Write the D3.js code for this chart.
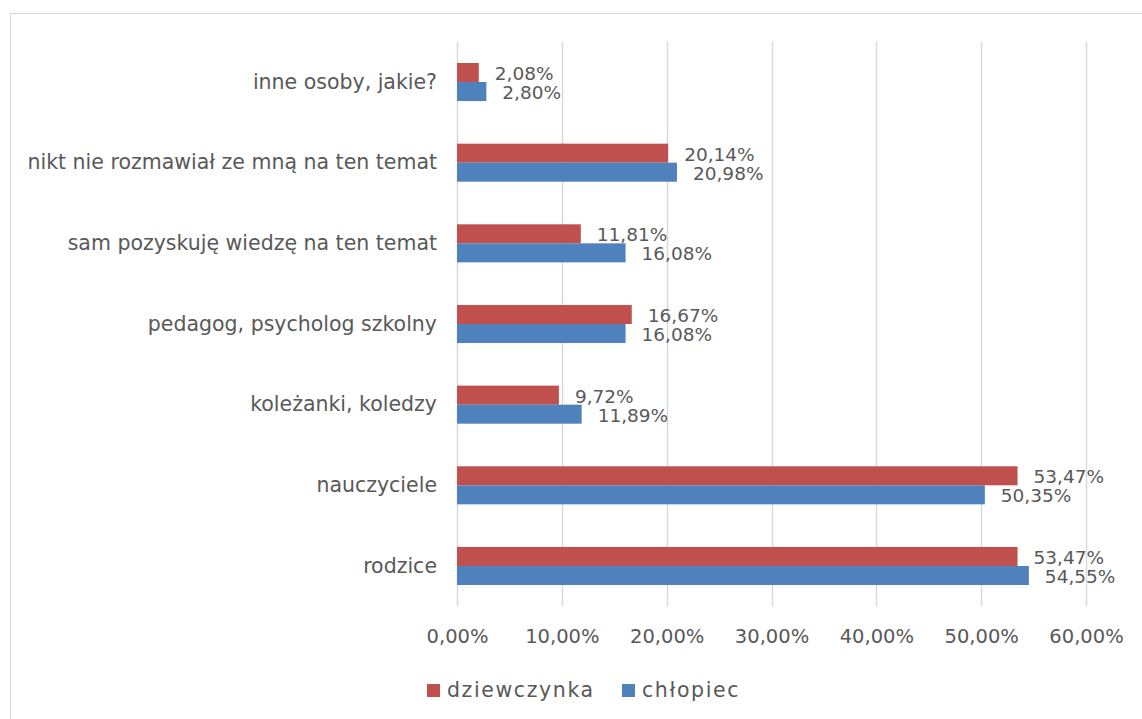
<!DOCTYPE html>
<html><head><meta charset="utf-8">
<script src="https://cdnjs.cloudflare.com/ajax/libs/d3/7.8.5/d3.min.js"></script>
<style>body{margin:0;background:#fff}svg{display:block}text{font-family:"DejaVu Sans",sans-serif;fill:#595959}</style>
</head><body><svg id="c" width="1142" height="719"></svg>
<script>
const categories = ["inne osoby, jakie?","nikt nie rozmawiał ze mną na ten temat","sam pozyskuję wiedzę na ten temat","pedagog, psycholog szkolny","koleżanki, koledzy","nauczyciele","rodzice"];
const dziewczynka = [2.08,20.14,11.81,16.67,9.72,53.47,53.47];
const chlopiec = [2.80,20.98,16.08,16.08,11.89,50.35,54.55];
const seriesNames = ["dziewczynka","chłopiec"];
const tickValues = [0,10,20,30,40,50,60];
const colors = ["#C0504D","#4F81BD"];

const svg = d3.select("#c");
const fmt = v => v.toFixed(2).replace(".",",")+"%";

// frame
svg.append("rect").attr("x",10.5).attr("y",13.5).attr("width",1200).attr("height",800)
  .attr("fill","none").attr("stroke","#D9D9D9").attr("stroke-width",1);

const x = d3.scaleLinear().domain([0,60]).range([457,1086]);
const y = d3.scaleBand().domain(categories).range([41.7,606.3]);
const inner = d3.scaleBand().domain([0,1]).range([0,y.bandwidth()]).paddingInner(0).paddingOuter(1.12);

// grid
svg.append("g").selectAll("line").data(tickValues).join("line")
  .attr("x1",d=>Math.round(x(d))+0.5).attr("x2",d=>Math.round(x(d))+0.5)
  .attr("y1",42).attr("y2",606).attr("stroke","#D9D9D9").attr("stroke-width",1.5);

// x axis labels
const xa = svg.append("g").attr("transform","translate(0,606)")
  .call(d3.axisBottom(x).tickValues(tickValues).tickSize(0).tickPadding(23).tickFormat(d=>d.toFixed(2).replace(".",",")+"%"));
xa.select(".domain").remove();
xa.selectAll("text").attr("font-size",19.5).style("font-family",null).attr("fill","#595959");

// y axis labels
const ya = svg.append("g").attr("transform","translate(457,0)")
  .call(d3.axisLeft(y).tickSize(0).tickPadding(20));
ya.select(".domain").remove();
ya.selectAll("text").attr("font-size",20.5).style("font-family",null).attr("fill","#595959");

const series = [dziewczynka, chlopiec];
series.forEach((vals,si)=>{
  const g = svg.append("g");
  g.selectAll("rect").data(vals).join("rect")
    .attr("x",x(0)).attr("y",(d,i)=>y(categories[i])+inner(si))
    .attr("width",d=>x(d)-x(0)).attr("height",inner.bandwidth())
    .attr("fill",colors[si]);
  g.selectAll("text").data(vals).join("text")
    .attr("x",d=>x(d)+16).attr("y",(d,i)=>y(categories[i])+inner(si)+inner.bandwidth()/2+1)
    .attr("dy","0.35em").attr("font-size",18.5).text(fmt);
});

// legend
const lg = svg.append("g");
const lx = [427,622];
seriesNames.forEach((n,i)=>{
  lg.append("rect").attr("x",lx[i]).attr("y",684).attr("width",13).attr("height",13).attr("fill",colors[i]);
  lg.append("text").attr("x",lx[i]+20).attr("y",690).attr("dy","0.35em").attr("font-size",20.5)
    .attr("letter-spacing",1.6).text(n);
});
</script></body></html>
